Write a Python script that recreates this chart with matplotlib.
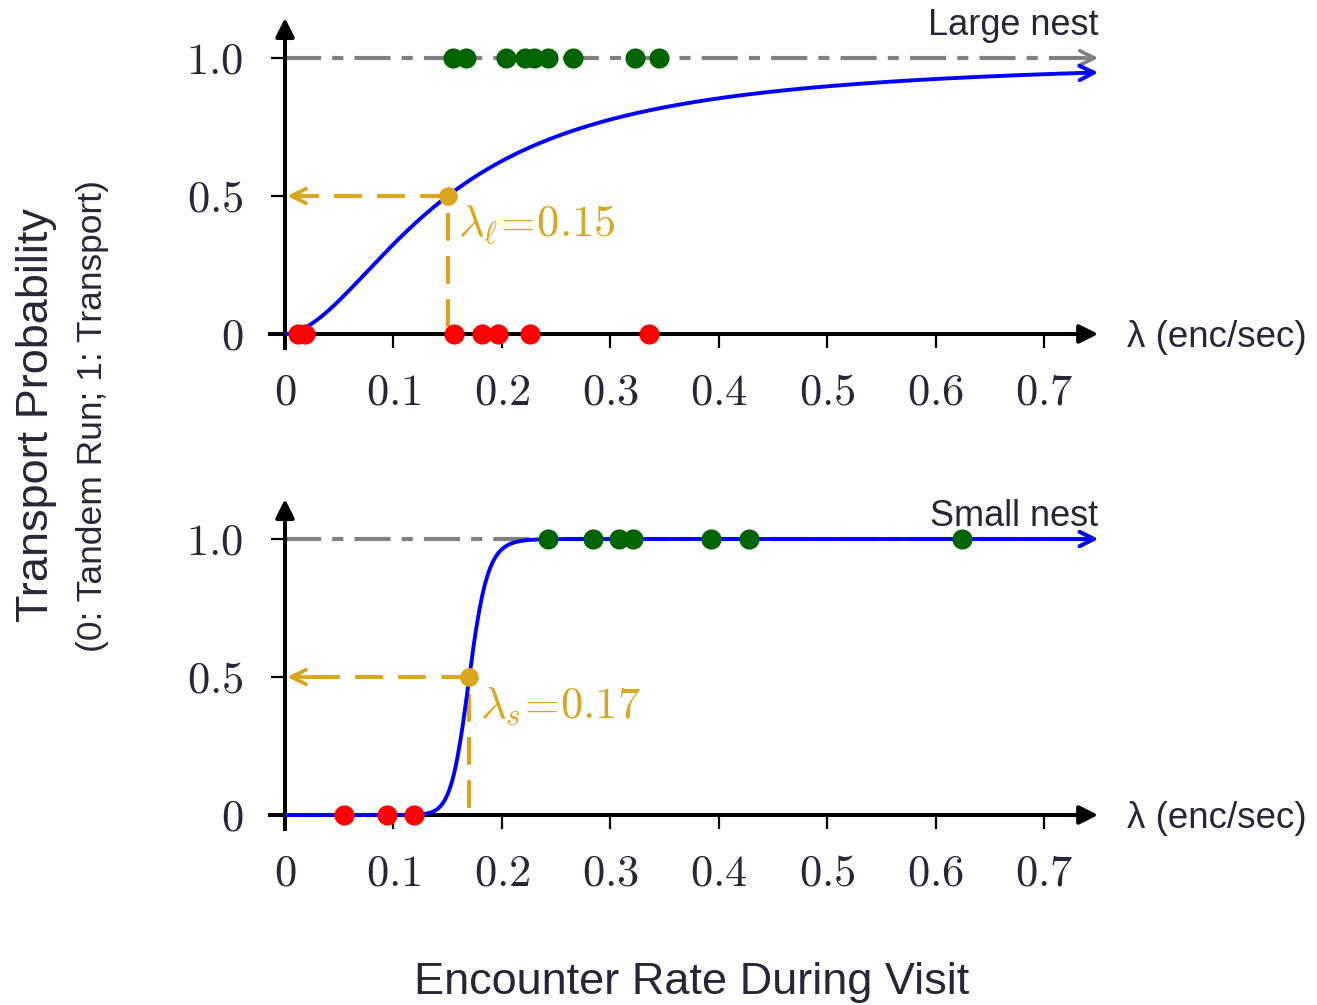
import numpy as np
import matplotlib
matplotlib.use("Agg")
import matplotlib.pyplot as plt

plt.rcParams["font.family"] = ["Liberation Sans", "DejaVu Sans"]
plt.rcParams["mathtext.fontset"] = "cm"
plt.rcParams["lines.scale_dashes"] = False

TEXT = "#2b2538"
GOLD = "#DAA520"
GREEN = "#006400"

# Axis ticks and labels
x_ticks = [0, 0.1, 0.2, 0.3, 0.4, 0.5, 0.6, 0.7]
x_tick_labels = ["0", "0.1", "0.2", "0.3", "0.4", "0.5", "0.6", "0.7"]
y_ticks = [0, 0.5, 1.0]
y_tick_labels = ["0", "0.5", "1.0"]

# Observed encounter rates (enc/sec): transports (1) and tandem runs (0)
large_transport = [0.155, 0.167, 0.204, 0.221, 0.230, 0.243, 0.266, 0.323, 0.345]
large_tandem = [0.012, 0.018, 0.156, 0.182, 0.196, 0.226, 0.336]
small_transport = [0.243, 0.284, 0.308, 0.321, 0.393, 0.428, 0.624]
small_tandem = [0.054, 0.094, 0.119]

# Fitted threshold responses
large_threshold, large_hill = 0.15, 1.8
small_threshold, small_hill = 0.17, 20.0

X_END = 0.75
Y_TOP = 1.145


def draw_panel(ax, threshold, hill, transport, tandem, nest_label, nest_y, lam_label):
    ax.set_xlim(-0.1, 0.95)
    ax.set_ylim(-0.3, 1.2)
    ax.patch.set_visible(False)
    for side in ("top", "right"):
        ax.spines[side].set_visible(False)
    ax.spines["left"].set_position(("data", 0))
    ax.spines["bottom"].set_position(("data", 0))
    ax.spines["left"].set_bounds(-0.05, Y_TOP - 0.03)
    ax.spines["bottom"].set_bounds(-0.014, X_END - 0.01)
    for side in ("left", "bottom"):
        ax.spines[side].set_linewidth(2.9)
        ax.spines[side].set_zorder(2)

    # axis arrowheads
    ax.annotate("", xy=(X_END, 0), xytext=(X_END - 0.03, 0),
                arrowprops=dict(arrowstyle="-|>", color="black", lw=2.9,
                                mutation_scale=28, shrinkA=0, shrinkB=0),
                annotation_clip=False)
    ax.annotate("", xy=(0, Y_TOP), xytext=(0, Y_TOP - 0.08),
                arrowprops=dict(arrowstyle="-|>", color="black", lw=2.9,
                                mutation_scale=28, shrinkA=0, shrinkB=0),
                annotation_clip=False)

    ax.set_xticks(x_ticks)
    ax.set_xticklabels(["$%s$" % t for t in x_tick_labels])
    ax.set_yticks(y_ticks)
    ax.set_yticklabels(["$%s$" % t for t in y_tick_labels])
    ax.tick_params(axis="x", direction="out", length=10, width=1.6,
                   labelsize=32, labelcolor=TEXT, pad=18)
    ax.tick_params(axis="y", direction="out", length=10, width=1.6,
                   labelsize=32, labelcolor=TEXT, pad=20)

    # certain-transport reference line
    ax.plot([0, X_END - 0.01], [1, 1], color="gray", lw=3.0,
            dashes=(26, 8, 8, 8), zorder=1)
    ax.annotate("", xy=(X_END, 1), xytext=(X_END - 0.02, 1),
                arrowprops=dict(arrowstyle="->", color="gray", lw=2.6,
                                mutation_scale=26, shrinkA=0, shrinkB=0))

    # fitted response curve
    lam = np.linspace(0, X_END, 600)
    p = lam ** hill / (lam ** hill + threshold ** hill)
    ax.plot(lam[:-3], p[:-3], color="blue", lw=2.8, zorder=3,
            solid_capstyle="butt")
    ax.annotate("", xy=(lam[-1], p[-1]), xytext=(lam[-8], p[-8]),
                arrowprops=dict(arrowstyle="->", color="blue", lw=2.8,
                                mutation_scale=26, shrinkA=0, shrinkB=0),
                zorder=3)

    # threshold guides
    ax.plot([threshold, 0.006], [0.5, 0.5], color=GOLD, lw=3.0,
            dashes=(20, 11), zorder=2)
    ax.annotate("", xy=(0.002, 0.5), xytext=(0.03, 0.5),
                arrowprops=dict(arrowstyle="->", color=GOLD, lw=2.8,
                                mutation_scale=26, shrinkA=0, shrinkB=0))
    ax.plot([threshold, threshold], [0.44, 0.0], color=GOLD, lw=3.0,
            dashes=(20, 11), zorder=2)
    ax.plot([threshold], [0.5], "o", color=GOLD, ms=13.5, zorder=5,
            clip_on=False, mew=0)
    ax.text(threshold + 0.0095, 0.393, lam_label, color=GOLD, fontsize=32,
            ha="left", va="center")

    # observations
    ax.plot(transport, [1] * len(transport), "o", color=GREEN, ms=14.5,
            zorder=6, clip_on=False, mew=0)
    ax.plot(tandem, [0] * len(tandem), "o", color="red", ms=14.5,
            zorder=6, clip_on=False, mew=0)

    ax.text(X_END, nest_y, nest_label, color=TEXT, fontsize=26,
            ha="right", va="baseline")
    ax.text(0.7765, -0.012, "λ (enc/sec)", color=TEXT, fontsize=26.5,
            ha="left", va="center")


fig = plt.figure(figsize=(13.17, 10.05), dpi=100)
ax_top = fig.add_axes([0.13407, 0.5853, 0.86447, 0.41194])
ax_bot = fig.add_axes([0.13407, 0.10667, 0.86447, 0.41194])

draw_panel(ax_top, large_threshold, large_hill, large_transport, large_tandem,
           "Large nest", 1.083, r"$\lambda_\ell\!=\!0.15$")
draw_panel(ax_bot, small_threshold, small_hill, small_transport, small_tandem,
           "Small nest", 1.047, r"$\lambda_s\!=\!0.17$")

fig.text(37 / 1317, 1 - 415 / 1005, "Transport Probability", rotation=90,
         fontsize=32.5, color=TEXT, ha="center", va="center")
fig.text(93 / 1317, 1 - 416 / 1005, "(0: Tandem Run; 1: Transport)",
         rotation=90, fontsize=25.5, color=TEXT, ha="center", va="center")
fig.text(692 / 1317, 1 - 982 / 1005, "Encounter Rate During Visit",
         fontsize=32.5, color=TEXT, ha="center", va="center")

fig.savefig("out.png", dpi=100)
